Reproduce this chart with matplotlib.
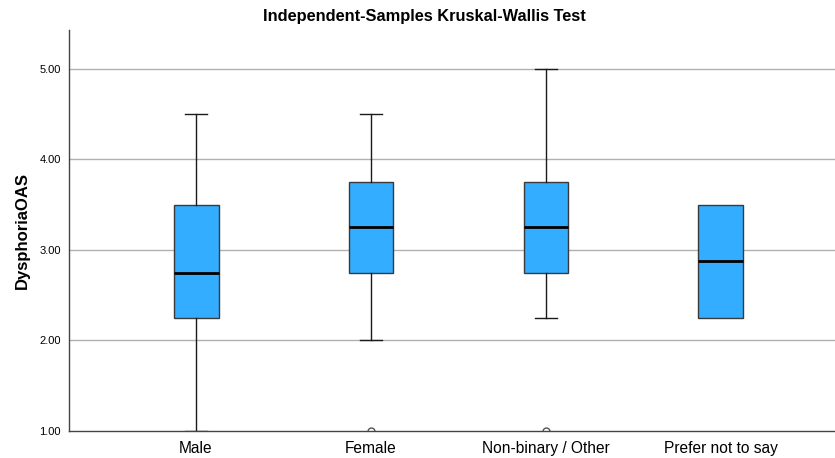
import numpy as np
import matplotlib.pyplot as plt

# group summaries for DysphoriaOAS
groups = ["Male", "Female", "Non-binary / Other", "Prefer not to say"]
whisker_low = [1.00, 2.00, 2.25, 2.25]
q1 = [2.25, 2.75, 2.75, 2.25]
medians = [2.75, 3.25, 3.25, 2.875]
q3 = [3.50, 3.75, 3.75, 3.50]
whisker_high = [4.50, 4.50, 5.00, 3.50]
outliers = [[], [1.00], [1.00], []]

plt.rcParams['font.family'] = ['Liberation Sans', 'DejaVu Sans']

stats = []
for i, name in enumerate(groups):
    stats.append({
        "label": name,
        "whislo": whisker_low[i],
        "q1": q1[i],
        "med": medians[i],
        "q3": q3[i],
        "whishi": whisker_high[i],
        "fliers": outliers[i],
    })

fig = plt.figure(figsize=(8.35, 4.58), dpi=100)
ax = fig.add_axes([69 / 835, 1 - 431 / 458, (848 - 69) / 835, (431 - 30) / 458])

parts = ax.bxp(stats, positions=[1, 2, 3, 4], widths=0.257, capwidths=0.128,
               patch_artist=True, showfliers=True,
               boxprops=dict(facecolor="#33adff", edgecolor="#3a3a3a", linewidth=1.0),
               medianprops=dict(color="black", linewidth=2.0),
               whiskerprops=dict(color="#1a1a1a", linewidth=1.0),
               capprops=dict(color="#1a1a1a", linewidth=1.0),
               flierprops=dict(marker="o", markersize=5, markerfacecolor="none",
                               markeredgecolor="#555555", markeredgewidth=1.0))

# no whisker caps where the whisker ends on the box itself
for i in range(len(groups)):
    if whisker_low[i] == q1[i]:
        parts["caps"][2 * i].set_visible(False)
    if whisker_high[i] == q3[i]:
        parts["caps"][2 * i + 1].set_visible(False)

ax.set_xlim(0.274, 4.726)
ax.set_ylim(1.0, 5.43)
ax.set_yticks([1, 2, 3, 4, 5])
ax.set_yticklabels(["%.2f" % v for v in [1, 2, 3, 4, 5]], fontsize=8)
ax.set_xticks([1, 2, 3, 4])
ax.set_xticklabels(groups, fontsize=11.2)
ax.tick_params(axis="y", length=0, pad=6)
ax.tick_params(axis="x", length=0, pad=7)

for y in [2, 3, 4, 5]:
    ax.axhline(y, color="#b0b0b0", linewidth=1.0, zorder=0)

for side in ["top", "right"]:
    ax.spines[side].set_visible(False)
for side in ["left", "bottom"]:
    ax.spines[side].set_color("#444444")
    ax.spines[side].set_linewidth(1.0)

ax.set_ylabel("DysphoriaOAS", fontsize=12, fontweight="bold", labelpad=7)
fig.text(424 / 835, 1 - 16 / 458, "Independent-Samples Kruskal-Wallis Test",
         ha="center", va="center", fontsize=11.8, fontweight="bold")

fig.savefig("out.png", dpi=100)
